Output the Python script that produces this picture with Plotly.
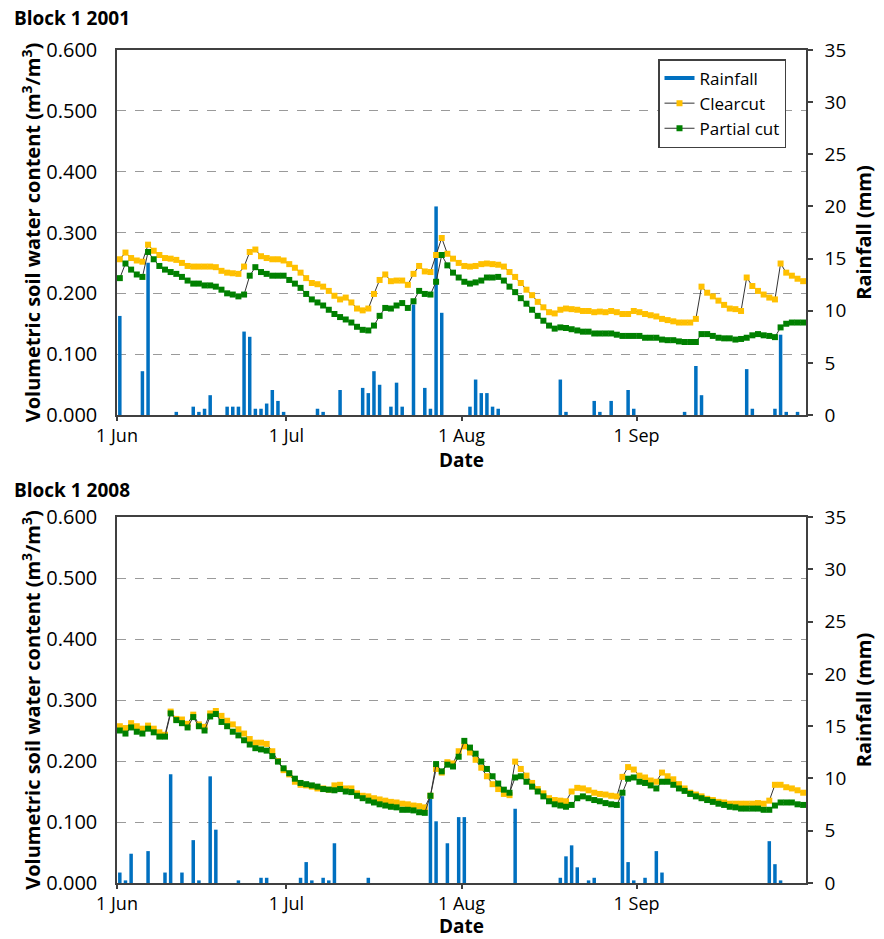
import pandas as pd
import plotly.graph_objects as go

# ---------------- data (daily, 1 Jun - 30 Sep) ----------------
start_2001 = "2001-06-01"
start_2008 = "2008-06-01"
n_days = 122

clearcut_2001 = [
    0.256, 0.267, 0.258, 0.254, 0.252, 0.280, 0.270, 0.263, 0.258, 0.257,
    0.255, 0.250, 0.245, 0.244, 0.244, 0.244, 0.244, 0.243, 0.237, 0.234,
    0.233, 0.232, 0.244, 0.268, 0.272, 0.261, 0.258, 0.256, 0.256, 0.254,
    0.248, 0.242, 0.234, 0.225, 0.217, 0.215, 0.211, 0.204, 0.196, 0.190,
    0.193, 0.185, 0.175, 0.172, 0.175, 0.199, 0.222, 0.231, 0.220, 0.221,
    0.221, 0.214, 0.232, 0.245, 0.236, 0.235, 0.263, 0.291, 0.265, 0.257,
    0.250, 0.245, 0.244, 0.245, 0.248, 0.249, 0.248, 0.247, 0.244, 0.235,
    0.227, 0.217, 0.206, 0.197, 0.186, 0.177, 0.169, 0.167, 0.173, 0.175,
    0.174, 0.173, 0.171, 0.171, 0.169, 0.170, 0.169, 0.171, 0.169, 0.166,
    0.166, 0.171, 0.169, 0.166, 0.164, 0.162, 0.158, 0.156, 0.154, 0.152,
    0.152, 0.152, 0.158, 0.211, 0.201, 0.195, 0.188, 0.181, 0.175, 0.174,
    0.171, 0.226, 0.212, 0.204, 0.198, 0.193, 0.190, 0.249, 0.234, 0.229,
    0.224, 0.220,
]
partial_2001 = [
    0.225, 0.249, 0.239, 0.231, 0.227, 0.268, 0.256, 0.245, 0.239, 0.235,
    0.232, 0.227, 0.221, 0.216, 0.216, 0.213, 0.213, 0.211, 0.206, 0.200,
    0.198, 0.195, 0.198, 0.229, 0.243, 0.235, 0.232, 0.229, 0.229, 0.229,
    0.222, 0.216, 0.209, 0.199, 0.190, 0.185, 0.180, 0.173, 0.166, 0.161,
    0.157, 0.152, 0.145, 0.140, 0.139, 0.147, 0.163, 0.176, 0.175, 0.180,
    0.184, 0.176, 0.187, 0.204, 0.199, 0.198, 0.219, 0.263, 0.246, 0.234,
    0.226, 0.219, 0.216, 0.218, 0.221, 0.226, 0.226, 0.227, 0.221, 0.211,
    0.202, 0.192, 0.183, 0.173, 0.163, 0.155, 0.147, 0.142, 0.144, 0.143,
    0.141, 0.139, 0.137, 0.137, 0.134, 0.134, 0.134, 0.134, 0.132, 0.130,
    0.130, 0.130, 0.130, 0.127, 0.127, 0.127, 0.124, 0.123, 0.123, 0.121,
    0.120, 0.120, 0.120, 0.133, 0.133, 0.130, 0.127, 0.126, 0.126, 0.124,
    0.125, 0.127, 0.131, 0.133, 0.131, 0.130, 0.128, 0.144, 0.150, 0.152,
    0.152, 0.152,
]
rainfall_2001 = [
    9.5, 0, 0, 0, 4.2, 14.6, 0, 0, 0, 0,
    0.3, 0, 0, 0.8, 0.3, 0.6, 1.9, 0, 0, 0.8,
    0.8, 0.8, 8.0, 7.5, 0.6, 0.6, 1.1, 2.4, 1.35, 0.3,
    0, 0, 0, 0, 0, 0.6, 0.3, 0, 0, 2.4,
    0, 0, 0, 2.6, 2.1, 4.2, 2.9, 0, 0.8, 3.1,
    0.8, 0, 10.6, 0, 2.6, 0.6, 20.0, 9.8, 0, 0,
    0, 0, 0.8, 3.4, 2.1, 2.1, 0.8, 0.6, 0, 0,
    0, 0, 0, 0, 0, 0, 0, 0, 3.4, 0.3,
    0, 0, 0, 0, 1.35, 0.3, 0, 1.35, 0, 0,
    2.4, 0.6, 0, 0, 0, 0, 0, 0, 0, 0,
    0.3, 0, 4.7, 1.9, 0, 0, 0, 0, 0, 0,
    0, 4.4, 0.6, 0, 0, 0, 0.6, 7.7, 0.3, 0,
    0.3, 0,
]

clearcut_2008 = [
    0.257, 0.254, 0.262, 0.257, 0.253, 0.258, 0.253, 0.247, 0.243, 0.281,
    0.269, 0.268, 0.261, 0.276, 0.260, 0.256, 0.278, 0.282, 0.274, 0.266,
    0.260, 0.252, 0.245, 0.236, 0.230, 0.230, 0.228, 0.216, 0.200, 0.185,
    0.178, 0.166, 0.161, 0.160, 0.158, 0.155, 0.155, 0.153, 0.160, 0.161,
    0.155, 0.155, 0.147, 0.143, 0.142, 0.139, 0.137, 0.135, 0.133, 0.132,
    0.130, 0.129, 0.127, 0.126, 0.124, 0.143, 0.187, 0.181, 0.198, 0.196,
    0.216, 0.224, 0.214, 0.202, 0.189, 0.175, 0.162, 0.154, 0.146, 0.144,
    0.199, 0.187, 0.176, 0.164, 0.154, 0.147, 0.139, 0.136, 0.135, 0.134,
    0.150, 0.156, 0.155, 0.152, 0.148, 0.146, 0.145, 0.143, 0.142, 0.174,
    0.190, 0.186, 0.176, 0.173, 0.168, 0.166, 0.181, 0.175, 0.170, 0.162,
    0.155, 0.148, 0.145, 0.142, 0.138, 0.136, 0.133, 0.132, 0.130, 0.130,
    0.130, 0.130, 0.130, 0.131, 0.130, 0.135, 0.161, 0.161, 0.157, 0.155,
    0.152, 0.148,
]
partial_2008 = [
    0.250, 0.245, 0.255, 0.248, 0.245, 0.253, 0.247, 0.240, 0.240, 0.278,
    0.267, 0.262, 0.255, 0.272, 0.257, 0.250, 0.273, 0.277, 0.264, 0.257,
    0.248, 0.242, 0.234, 0.227, 0.221, 0.219, 0.217, 0.208, 0.199, 0.188,
    0.180, 0.171, 0.164, 0.162, 0.160, 0.158, 0.154, 0.153, 0.152, 0.154,
    0.150, 0.149, 0.143, 0.139, 0.135, 0.132, 0.129, 0.127, 0.125, 0.124,
    0.120, 0.120, 0.119, 0.116, 0.115, 0.143, 0.195, 0.183, 0.194, 0.191,
    0.207, 0.233, 0.222, 0.212, 0.199, 0.187, 0.175, 0.163, 0.153, 0.148,
    0.173, 0.175, 0.166, 0.158, 0.150, 0.142, 0.134, 0.129, 0.127, 0.125,
    0.128, 0.139, 0.142, 0.139, 0.136, 0.134, 0.131, 0.129, 0.128, 0.148,
    0.171, 0.173, 0.166, 0.164, 0.160, 0.155, 0.166, 0.166, 0.161, 0.155,
    0.151, 0.146, 0.142, 0.139, 0.136, 0.133, 0.130, 0.128, 0.125, 0.124,
    0.122, 0.122, 0.122, 0.122, 0.120, 0.120, 0.127, 0.132, 0.132, 0.132,
    0.129, 0.128,
]
rainfall_2008 = [
    1.0, 0.25, 2.8, 0, 0, 3.05, 0, 0, 1.0, 10.4,
    0, 1.0, 0, 4.1, 0.25, 0, 10.2, 5.1, 0, 0,
    0, 0.25, 0, 0, 0, 0.5, 0.5, 0, 0, 0,
    0, 0, 0.5, 2.0, 0.25, 0, 0.5, 0.25, 3.8, 0,
    0, 0, 0, 0, 0.5, 0, 0, 0, 0, 0,
    0, 0, 0, 0, 0, 8.15, 5.9, 0, 3.8, 0,
    6.3, 6.3, 0, 0, 0, 0, 0, 0, 0, 0,
    7.1, 0, 0, 0, 0, 0, 0, 0, 0.5, 2.55,
    3.6, 1.5, 0, 0.25, 0.5, 0, 0, 0, 0, 8.3,
    2.0, 0.25, 0, 0.5, 0, 3.05, 1.0, 0, 0, 0,
    0, 0, 0, 0, 0, 0, 0, 0, 0, 0,
    0, 0, 0, 0, 0, 4.0, 1.8, 0.25, 0, 0,
    0, 0,
]

month_ticks = ["06-01", "07-01", "08-01", "09-01"]
month_labels = ["1 Jun", "1 Jul", "1 Aug", "1 Sep"]
titles = ["Block 1 2001", "Block 1 2008"]
left_ticks = [0.0, 0.1, 0.2, 0.3, 0.4, 0.5, 0.6]
right_ticks = [0, 5, 10, 15, 20, 25, 30, 35]

# ---------------- styling ----------------
FONT = "Open Sans"
BLUE = "#0070C0"
YELLOW = "#FFC000"
GREEN = "#008000"
AXC = "#404040"
DAY_MS = 86400000

fig = go.Figure()

panels = [
    (start_2001, clearcut_2001, partial_2001, rainfall_2001),
    (start_2008, clearcut_2008, partial_2008, rainfall_2008),
]

axis_ids = [("x", "y", "y2"), ("x2", "y3", "y4")]

for i, (start, cc, pc, rain) in enumerate(panels):
    xa, ya_rain, ya_soil = axis_ids[i]
    dates = pd.date_range(start, periods=n_days, freq="D") + pd.Timedelta(hours=12)
    first = i == 0
    fig.add_trace(go.Bar(
        x=dates, y=rain, xaxis=xa, yaxis=ya_rain, name="Rainfall",
        marker=dict(color=BLUE, line=dict(width=0)), width=0.62 * DAY_MS,
        showlegend=False,
    ))
    fig.add_trace(go.Scatter(
        x=[None], y=[None], xaxis=xa, yaxis=ya_rain, mode="lines",
        name="Rainfall", line=dict(color=BLUE, width=4), showlegend=first,
    ))
    fig.add_trace(go.Scatter(
        x=dates, y=cc, xaxis=xa, yaxis=ya_soil, mode="lines+markers",
        name="Clearcut", line=dict(color="#333333", width=1),
        marker=dict(symbol="square", size=6, color=YELLOW),
        showlegend=first,
    ))
    fig.add_trace(go.Scatter(
        x=dates, y=pc, xaxis=xa, yaxis=ya_soil, mode="lines+markers",
        name="Partial cut", line=dict(color="#333333", width=1),
        marker=dict(symbol="square", size=6, color=GREEN),
        showlegend=first,
    ))

# figure geometry
W, H = 884, 939
ML, MR, MT, MB = 117, 78, 50, 56
plot_h = H - MT - MB
top_dom = [(883 - 415) / plot_h, 1.0]
bot_dom = [0.0, (883 - 517) / plot_h]


def xaxis_cfg(year, anchor):
    return dict(
        domain=[0, 1], anchor=anchor, type="date", automargin=False,
        range=[f"{year}-06-01", f"{year}-10-01"],
        tickvals=[f"{year}-{m}" for m in month_ticks], ticktext=month_labels,
        ticks="outside", ticklen=4, tickwidth=1.5, tickcolor=AXC,
        showline=True, linecolor=AXC, linewidth=1.5, mirror=True,
        showgrid=False, zeroline=False,
        tickfont=dict(size=18), ticklabelstandoff=0,
        title=dict(text="<b>Date</b>", font=dict(size=19), standoff=0),
    )


def rain_axis(dom, anchor):
    return dict(
        domain=dom, anchor=anchor, side="right", range=[0, 35], automargin=False,
        tickvals=right_ticks, ticks="outside", ticklen=5, tickwidth=1.5,
        tickcolor=AXC, showline=True, linecolor=AXC, linewidth=1.5,
        showgrid=False, zeroline=False, tickfont=dict(size=19),
        ticklabelstandoff=8,
        title=dict(text="<b>Rainfall (mm)</b>", font=dict(size=20), standoff=12),
    )


def soil_axis(over, anchor):
    return dict(
        overlaying=over, anchor=anchor, side="left", range=[0, 0.6],
        automargin=False,
        tickvals=left_ticks, tickformat=".3f", ticks="",
        showline=True, linecolor=AXC, linewidth=1.5,
        showgrid=True, gridcolor="#9a9a9a", griddash="dash", gridwidth=1,
        zeroline=False, tickfont=dict(size=20), ticklabelstandoff=14,
        title=dict(text="<b>Volumetric soil water content (m<sup>3</sup>/m<sup>3</sup>)</b>",
                   font=dict(size=20), standoff=0),
    )


fig.update_layout(
    width=W, height=H,
    margin=dict(l=ML, r=MR, t=MT, b=MB, autoexpand=False),
    paper_bgcolor="white", plot_bgcolor="white",
    font=dict(family=FONT, size=19, color="black"),
    xaxis=xaxis_cfg(2001, "y"),
    xaxis2=xaxis_cfg(2008, "y3"),
    yaxis=rain_axis(top_dom, "x"),
    yaxis2=soil_axis("y", "x"),
    yaxis3=rain_axis(bot_dom, "x2"),
    yaxis4=soil_axis("y3", "x2"),
    legend=dict(
        x=(658 - ML) / (W - ML - MR), y=(883 - 59) / plot_h,
        xanchor="left", yanchor="top",
        bordercolor=AXC, borderwidth=1.5, bgcolor="white",
        font=dict(size=17), tracegroupgap=0, itemwidth=30,
    ),
    showlegend=True,
)

for title, ypix in zip(titles, [18, 490]):
    fig.add_annotation(
        text=f"<b>{title}</b>", xref="paper", yref="paper",
        x=(12 - ML) / (W - ML - MR), y=(883 - ypix) / plot_h,
        xanchor="left", yanchor="middle", showarrow=False,
        font=dict(size=19),
    )

fig.write_html("out.html")
